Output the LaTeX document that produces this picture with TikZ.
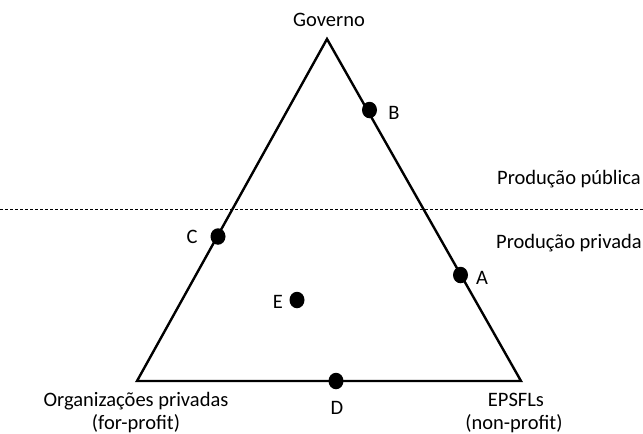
\documentclass[tikz,border=0pt]{standalone}
\usepackage{fontspec}
\setmainfont{Carlito}
\usetikzlibrary{shapes.geometric}
\begin{document}
\begin{tikzpicture}[x=1pt,y=-1pt,
  lbl/.style={anchor=base,inner sep=0pt,font=\fontsize{20.5}{24}\selectfont},
  side/.style={line width=2.4pt,line join=miter},
  dotmark/.style={ellipse,fill=black,minimum width=15pt,minimum height=16.5pt,inner sep=0pt},
  divider/.style={line width=0.9pt,dash pattern=on 3pt off 2pt}]
\useasboundingbox (0,0) rectangle (643,434);
\coordinate (G) at (327,39);
\coordinate (L) at (137,381);
\coordinate (R) at (521,381);
\draw[side] (G) -- (L) -- (R) -- cycle;
\coordinate (dl) at (0,209);
\coordinate (dr) at (643,209);
\draw[divider] (dl) -- (dr);
\node[dotmark] (b) at (369.5,110) {};
\node[dotmark] (a) at (460.5,275) {};
\node[dotmark] (c) at (218,236.5) {};
\node[dotmark] (e) at (297,300) {};
\node[dotmark] (d) at (336,381) {};
\node[lbl] (tg) at (329,26) {Governo};
\node[lbl] (tb) at (394,119) {B};
\node[lbl] (ta) at (482,284) {A};
\node[lbl] (tc) at (192,243) {C};
\node[lbl] (te) at (278,308) {E};
\node[lbl] (td) at (337,414) {D};
\node[lbl,anchor=base west] (tpub) at (497,184) {Produção pública};
\node[lbl,anchor=base west] (tpri) at (496,248) {Produção privada};
\node[lbl] (to1) at (136,406) {Organizações privadas};
\node[lbl] (to2) at (136,429) {(for-profit)};
\node[lbl] (te1) at (516,406) {EPSFLs};
\node[lbl] (te2) at (514,429) {(non-profit)};
\end{tikzpicture}
\end{document}
